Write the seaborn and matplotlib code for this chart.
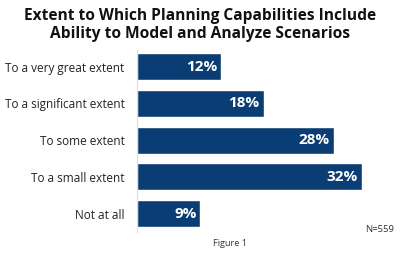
import matplotlib
matplotlib.use("Agg")
import matplotlib.pyplot as plt
import seaborn as sns
import pandas as pd

categories = ["To a very great extent", "To a significant extent", "To some extent",
              "To a small extent", "Not at all"]
values = [12, 18, 28, 32, 9]
value_labels = ["12%", "18%", "28%", "32%", "9%"]
title = "Extent to Which Planning Capabilities Include\nAbility to Model and Analyze Scenarios"

df = pd.DataFrame({"cat": categories, "val": values})

sns.set_theme(style="white")
plt.rcParams["font.family"] = ["Open Sans", "DejaVu Sans"]

fig = plt.figure(figsize=(4.0, 2.54), dpi=100)
ax = fig.add_axes([137/400, 1 - 232/254, (400-137)/400, (232-50)/254])

bar_color = "#0A3D73"
sns.barplot(data=df, x="val", y="cat", orient="h", color=bar_color, width=0.735,
            saturation=1, ax=ax)

ax.set_xlim(0, (400-137)/7.03)
ax.set_ylim(4.503, -0.449)
ax.set_xlabel("")
ax.set_ylabel("")
ax.set_xticks([])
ax.tick_params(axis="y", length=0, pad=9, labelsize=8.5, labelcolor="#222222")
for s in ["top", "right", "bottom"]:
    ax.spines[s].set_visible(False)
ax.spines["left"].set_color("#dddddd")
ax.spines["left"].set_linewidth(0.8)

for i, (v, lab) in enumerate(zip(values, value_labels)):
    ax.text(v - 0.55, i, lab, ha="right", va="center", color="white",
            fontsize=11, fontweight="bold")

fig.text(0.5, 1 - 25/254, title, ha="center", va="center", fontsize=11.2,
         fontweight="bold", color="#111111", linespacing=1.1)
fig.text(380/400, 1 - 229/254, "N=559", ha="center", va="center", fontsize=6.8,
         color="#333333")
fig.text(230/400, 1 - 243/254, "Figure 1", ha="center", va="center", fontsize=6.6,
         color="#333333")

fig.savefig("out.png", dpi=100)
